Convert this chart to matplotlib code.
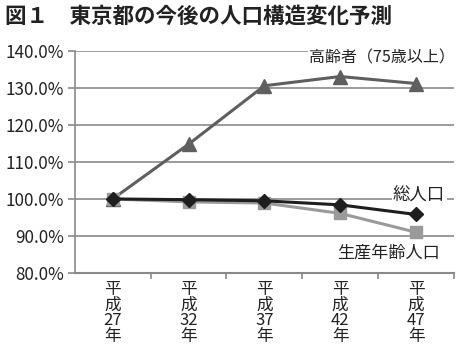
import matplotlib
matplotlib.use('Agg')
import matplotlib.pyplot as plt

plt.rcParams['font.family'] = ['Noto Sans CJK JP', 'DejaVu Sans']

# data (index: 平成27年 = 100%)
years = ['平\n成\n27\n年', '平\n成\n32\n年', '平\n成\n37\n年', '平\n成\n42\n年', '平\n成\n47\n年']
elderly = [100.0, 114.8, 130.6, 133.1, 131.2]
total = [100.0, 99.8, 99.5, 98.4, 95.8]
working = [100.0, 99.2, 98.9, 96.1, 91.0]
yticks = [80, 90, 100, 110, 120, 130, 140]

fig = plt.figure(figsize=(4.59, 3.54), dpi=100)
ax = fig.add_axes([0.163, 0.229, 0.826, 0.627])

x = list(range(len(years)))
ax.plot(x, elderly, color='#5f5f5f', lw=2.2, marker='^', ms=10, zorder=3)
ax.plot(x, working, color='#9a9a9a', lw=2.2, marker='s', ms=9, zorder=4)
ax.plot(x, total, color='#1e1e1e', lw=2.2, marker='D', ms=7, zorder=5)

ax.set_xlim(-0.5, 4.5)
ax.set_ylim(80, 140)
ax.set_yticks(yticks)
ax.set_yticklabels([f'{v:.1f}%' for v in yticks], fontsize=12.3, color='#222222')
ax.grid(axis='y', color='#8a8a8a', lw=1.2, zorder=0)
ax.tick_params(axis='y', length=5, color='#8a8a8a', width=1.2, pad=3)

ax.set_xticks(x)
ax.set_xticklabels(years, fontsize=12, linespacing=0.88, color='#222222')
ax.set_xticks([0.5, 1.5, 2.5, 3.5, 4.5], minor=True)
ax.tick_params(axis='x', which='major', length=0, pad=6)
ax.tick_params(axis='x', which='minor', length=4, color='#8a8a8a', width=1.2)

for s in ['top', 'right']:
    ax.spines[s].set_visible(False)
ax.spines['left'].set_color('#8a8a8a')
ax.spines['bottom'].set_color('#8a8a8a')
ax.spines['left'].set_linewidth(1.2)
ax.spines['bottom'].set_linewidth(1.5)

box = dict(facecolor='white', edgecolor='none', pad=1)
ax.text(3.55, 138.2, '高齢者（75歳以上）', fontsize=11.5, ha='center', va='center',
        bbox=box, zorder=6, color='#222222')
ax.text(4.04, 101.0, '総人口', fontsize=12.5, ha='center', va='center',
        bbox=box, zorder=6, color='#222222')
ax.text(3.63, 85.6, '生産年齢人口', fontsize=12.3, ha='center', va='center',
        zorder=6, color='#222222')

fig.text(0.01, 0.955, '図１　東京都の今後の人口構造変化予測', fontsize=15.5,
         fontweight='bold', ha='left', va='center', color='#222222')

fig.savefig('out.png', dpi=100)
